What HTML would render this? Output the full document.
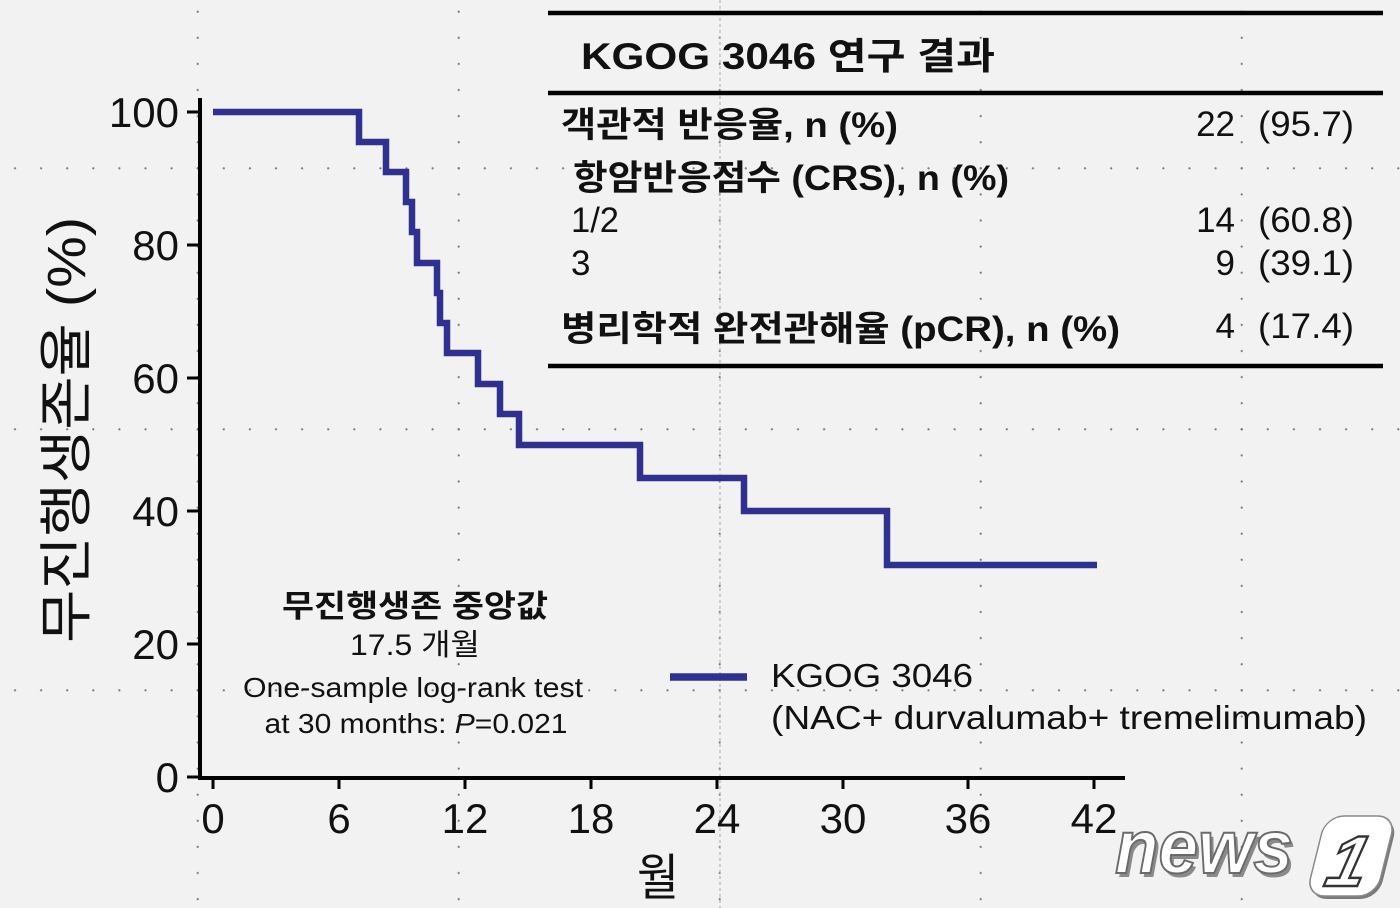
<!DOCTYPE html>
<html>
<head>
<meta charset="utf-8">
<style>
  html,body{margin:0;padding:0;background:#f2f2f2;}
  svg{display:block;}
  text{font-family:"Liberation Sans","Noto Sans CJK KR",sans-serif;fill:#111;}
</style>
</head>
<body>
<svg width="1400" height="908" viewBox="0 0 1400 908" xmlns="http://www.w3.org/2000/svg">
  <defs>
    <pattern id="dots" x="1.95" y="-1.35" width="26.1" height="26.1" patternUnits="userSpaceOnUse">
      <circle cx="13.05" cy="13.05" r="1.1" fill="#777"/>
    </pattern>
  </defs>
  <rect x="0" y="0" width="1400" height="908" fill="#f2f2f2"/>

  <!-- background dotted grid -->
  <g fill="url(#dots)">
    <rect x="194" y="0" width="6" height="908"/>
    <rect x="455" y="0" width="6" height="908"/>
    <rect x="717" y="0" width="6" height="908"/>
    <rect x="977" y="0" width="6" height="908"/>
    <rect x="1238" y="0" width="6" height="908"/>
    <rect x="0" y="165" width="1400" height="6"/>
    <rect x="0" y="426" width="1400" height="6"/>
    <rect x="0" y="687" width="1400" height="6"/>
  </g>
  <line x1="720" y1="0" x2="720" y2="908" stroke="#a8a8a8" stroke-width="1" stroke-dasharray="3 3"/>

  <!-- table -->
  <g stroke="#000" stroke-width="4.5">
    <line x1="548" y1="13" x2="1383" y2="13"/>
    <line x1="548" y1="93" x2="1383" y2="93"/>
    <line x1="548" y1="366" x2="1383" y2="366"/>
  </g>
  <text x="581" y="69" font-size="37" font-weight="bold" textLength="414" lengthAdjust="spacingAndGlyphs">KGOG 3046 연구 결과</text>
  <text x="561" y="137" font-size="35" font-weight="bold" textLength="337" lengthAdjust="spacingAndGlyphs">객관적 반응율, n (%)</text>
  <text x="573" y="190" font-size="35" font-weight="bold" textLength="436" lengthAdjust="spacingAndGlyphs">항암반응점수 (CRS), n (%)</text>
  <text x="571" y="232" font-size="35" textLength="48" lengthAdjust="spacingAndGlyphs">1/2</text>
  <text x="571" y="275" font-size="35">3</text>
  <text x="561" y="341" font-size="35" font-weight="bold" textLength="559" lengthAdjust="spacingAndGlyphs">병리학적 완전관해율 (pCR), n (%)</text>

  <g font-size="35">
    <text x="1235" y="136" text-anchor="end">22</text>
    <text x="1258" y="136" textLength="96" lengthAdjust="spacingAndGlyphs">(95.7)</text>
    <text x="1235" y="232" text-anchor="end">14</text>
    <text x="1258" y="232" textLength="96" lengthAdjust="spacingAndGlyphs">(60.8)</text>
    <text x="1235" y="275" text-anchor="end">9</text>
    <text x="1258" y="275" textLength="96" lengthAdjust="spacingAndGlyphs">(39.1)</text>
    <text x="1235" y="338" text-anchor="end">4</text>
    <text x="1258" y="338" textLength="96" lengthAdjust="spacingAndGlyphs">(17.4)</text>
  </g>

  <!-- axes -->
  <g stroke="#000">
    <line x1="200" y1="98" x2="200" y2="780" stroke-width="4"/>
    <line x1="198" y1="778" x2="1125" y2="778" stroke-width="4"/>
    <g stroke-width="3">
      <line x1="187" y1="112" x2="200" y2="112"/>
      <line x1="187" y1="245" x2="200" y2="245"/>
      <line x1="187" y1="378" x2="200" y2="378"/>
      <line x1="187" y1="511" x2="200" y2="511"/>
      <line x1="187" y1="644" x2="200" y2="644"/>
      <line x1="187" y1="777" x2="200" y2="777"/>
      <line x1="213" y1="778" x2="213" y2="789"/>
      <line x1="339" y1="778" x2="339" y2="789"/>
      <line x1="465" y1="778" x2="465" y2="789"/>
      <line x1="591" y1="778" x2="591" y2="789"/>
      <line x1="717" y1="778" x2="717" y2="789"/>
      <line x1="843" y1="778" x2="843" y2="789"/>
      <line x1="968" y1="778" x2="968" y2="789"/>
      <line x1="1094" y1="778" x2="1094" y2="789"/>
    </g>
  </g>

  <g font-size="42" text-anchor="end">
    <text x="179" y="127">100</text>
    <text x="179" y="260">80</text>
    <text x="179" y="393">60</text>
    <text x="179" y="526">40</text>
    <text x="179" y="659">20</text>
    <text x="179" y="792">0</text>
  </g>
  <g font-size="42" text-anchor="middle">
    <text x="213" y="833">0</text>
    <text x="339" y="833">6</text>
    <text x="465" y="833">12</text>
    <text x="591" y="833">18</text>
    <text x="717" y="833">24</text>
    <text x="843" y="833">30</text>
    <text x="968" y="833">36</text>
    <text x="1094" y="833">42</text>
  </g>

  <!-- axis titles -->
  <text transform="translate(85,430) rotate(-90)" font-size="54" text-anchor="middle" textLength="426" lengthAdjust="spacingAndGlyphs">무진행생존율 (%)</text>
  <text x="637" y="895" font-size="50" textLength="42" lengthAdjust="spacingAndGlyphs">월</text>

  <!-- KM curve -->
  <path d="M213,112 H359 V142 H386 V172 H406 V202 H412 V232 H417 V263 H437 V293 H440 V323 H447 V353 H478 V384 H500 V414 H519 V445 H640 V478 H744 V511 H887 V565 H1097"
        fill="none" stroke="#2e3190" stroke-width="6.5" stroke-linejoin="miter" stroke-linecap="butt"/>

  <!-- annotation -->
  <text x="415" y="617" font-size="31" font-weight="bold" text-anchor="middle" textLength="266" lengthAdjust="spacingAndGlyphs">무진행생존 중앙값</text>
  <text x="415" y="655" font-size="30" text-anchor="middle" textLength="130" lengthAdjust="spacingAndGlyphs">17.5 개월</text>
  <text x="413" y="697" font-size="28" text-anchor="middle" textLength="340" lengthAdjust="spacingAndGlyphs">One-sample log-rank test</text>
  <text x="416" y="733" font-size="28" text-anchor="middle" textLength="303" lengthAdjust="spacingAndGlyphs">at 30 months: <tspan font-style="italic">P</tspan>=0.021</text>

  <!-- legend -->
  <line x1="670" y1="677" x2="747" y2="677" stroke="#2e3190" stroke-width="7.5"/>
  <text x="771" y="687" font-size="33" textLength="202" lengthAdjust="spacingAndGlyphs">KGOG 3046</text>
  <text x="771" y="729" font-size="33" textLength="596" lengthAdjust="spacingAndGlyphs">(NAC+ durvalumab+ tremelimumab)</text>

  <!-- news1 watermark -->
  <g>
    <text x="1118" y="877" font-size="76" font-weight="bold" font-style="italic" textLength="178" lengthAdjust="spacingAndGlyphs" style="fill:#8a8a8a">news</text>
    <text x="1115" y="873" font-size="76" font-weight="bold" font-style="italic" textLength="178" lengthAdjust="spacingAndGlyphs" style="fill:#ffffff" stroke="#6a6a6a" stroke-width="2">news</text>
    <g transform="translate(1352,856) skewX(-14)">
      <rect x="-33" y="-37" width="70" height="80" rx="18" fill="#7a7a7a"/>
      <rect x="-36" y="-40" width="70" height="80" rx="18" fill="#ffffff" stroke="#888" stroke-width="1.5"/>
      <text x="-2" y="30" font-size="72" font-weight="bold" font-style="italic" text-anchor="middle" style="fill:#ffffff" stroke="#333" stroke-width="2.5">1</text>
    </g>
  </g>
</svg>
</body>
</html>
